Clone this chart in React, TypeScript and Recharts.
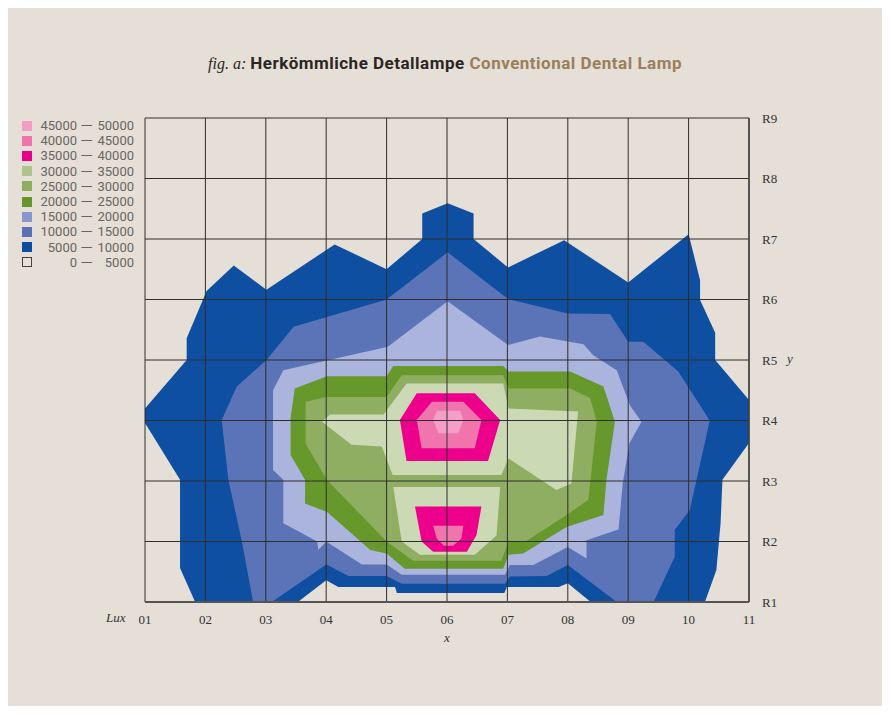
import { ComposedChart, Area, XAxis, YAxis, ReferenceLine } from 'recharts'

// contour outlines: [x, y] vertices, each loop closed
const lux5000 = [
  [1.0, 4.2], [1.69, 5.0], [1.69, 5.36], [2.02, 6.14], [2.47, 6.56], [3.01, 6.16], [4.14, 6.91],
  [5.0, 6.5], [5.59, 7.0], [5.59, 7.42], [6.01, 7.59], [6.44, 7.42], [6.44, 7.0], [7.01, 6.53],
  [7.94, 6.98], [9.0, 6.28], [10.0, 7.08], [10.19, 6.32], [10.19, 5.99], [10.44, 5.45],
  [10.44, 5.0], [11.0, 4.34], [11.0, 3.63], [10.56, 3.02], [10.53, 2.31], [10.46, 1.53],
  [10.27, 1.0], [8.38, 1.0], [8.0, 1.31], [7.85, 1.25], [6.99, 1.25], [6.95, 1.15], [5.17, 1.15],
  [5.14, 1.25], [4.2, 1.25], [4.0, 1.36], [3.53, 1.0], [1.83, 1.0], [1.58, 1.56], [1.58, 3.02],
  [1.0, 3.96], [1.0, 4.2],
]
const lux10000 = [
  [2.27, 4.01], [2.52, 4.56], [3.01, 5.0], [3.46, 5.55], [5.0, 6.0], [6.01, 6.78], [7.01, 6.01],
  [8.0, 5.77], [8.7, 5.76], [9.0, 5.3], [9.25, 5.3], [9.83, 4.81], [10.35, 4.0], [10.02, 2.52],
  [9.77, 2.19], [9.77, 1.75], [9.42, 1.0], [8.81, 1.0], [8.0, 1.61], [7.65, 1.43], [7.04, 1.42],
  [6.96, 1.3], [5.25, 1.3], [5.0, 1.43], [4.37, 1.43], [4.0, 1.62], [3.1, 1.0], [2.79, 1.0],
  [2.6, 2.02], [2.38, 3.02], [2.27, 4.01],
]
const lux15000 = [
  [3.12, 3.18], [3.12, 4.5], [3.29, 4.83], [5.02, 5.22], [6.01, 5.97], [7.01, 5.25], [7.54, 5.39],
  [8.26, 5.26], [8.42, 5.08], [8.81, 4.83], [9.03, 4.25], [9.22, 3.98], [9.02, 3.62], [8.91, 2.96],
  [8.84, 2.2], [8.31, 2.02], [8.31, 1.72], [8.0, 1.91], [7.43, 1.61], [7.04, 1.61], [6.96, 1.45],
  [5.25, 1.45], [5.0, 1.62], [4.59, 1.62], [4.0, 2.0], [3.87, 1.86], [3.85, 2.0], [3.29, 2.3],
  [3.29, 3.02], [3.12, 3.18],
]
const lux20000 = [
  [3.41, 3.43], [3.41, 4.04], [3.48, 4.53], [4.01, 4.73], [5.0, 4.73], [5.11, 4.9], [6.93, 4.9],
  [7.02, 4.81], [8.04, 4.81], [8.59, 4.56], [8.78, 3.98], [8.64, 3.02], [8.59, 2.44], [7.98, 2.24],
  [7.26, 1.8], [7.02, 1.78], [6.93, 1.55], [5.3, 1.55], [5.0, 1.8], [4.73, 1.86], [4.01, 2.49],
  [3.65, 2.63], [3.65, 3.02], [3.41, 3.43],
]
const lux25000 = [
  [3.66, 3.62], [3.66, 4.31], [4.01, 4.39], [5.0, 4.39], [5.25, 4.75], [6.93, 4.75], [7.02, 4.53],
  [8.04, 4.53], [8.37, 4.37], [8.48, 3.98], [8.34, 2.69], [8.0, 2.45], [7.3, 2.0], [7.02, 2.0],
  [6.9, 1.68], [5.44, 1.68], [5.0, 2.0], [4.01, 3.02], [3.66, 3.62],
]
const lux30000Upper = [
  [3.93, 3.98], [4.06, 4.1], [4.95, 4.1], [5.33, 4.61], [6.93, 4.61], [7.02, 4.2], [8.17, 4.15],
  [8.06, 2.96], [7.81, 2.85], [7.02, 3.37], [6.9, 3.1], [5.1, 3.1], [4.92, 3.57], [4.42, 3.6],
  [3.93, 3.98],
]
const lux30000Lower = [
  [5.11, 2.9], [6.88, 2.9], [6.82, 2.1], [6.46, 1.78], [5.55, 1.78], [5.25, 2.0], [5.11, 2.9],
]
const lux35000Upper = [
  [5.22, 4.01], [5.5, 4.45], [6.46, 4.45], [6.88, 4.01], [6.68, 3.33], [5.33, 3.33], [5.22, 4.01],
]
const lux35000Lower = [
  [5.47, 2.58], [6.57, 2.58], [6.49, 2.11], [6.33, 1.83], [5.77, 1.83], [5.58, 2.0], [5.47, 2.58],
]
const lux40000Upper = [
  [5.5, 4.01], [5.75, 4.31], [6.27, 4.31], [6.57, 4.01], [6.46, 3.54], [5.58, 3.54], [5.5, 4.01],
]
const lux40000Lower = [
  [5.77, 2.26], [6.27, 2.26], [6.24, 2.05], [6.1, 1.93], [5.95, 1.93], [5.83, 2.05], [5.77, 2.26],
]
const lux45000 = [
  [5.77, 4.01], [5.83, 4.16], [6.22, 4.16], [6.27, 4.01], [6.19, 3.79], [5.86, 3.79], [5.77, 4.01],
]

const xTicks = [1, 2, 3, 4, 5, 6, 7, 8, 9, 10, 11]
const yTicks = [1, 2, 3, 4, 5, 6, 7, 8, 9]

const bandLow = [45000, 40000, 35000, 30000, 25000, 20000, 15000, 10000, 5000, 0]
const bandHigh = [50000, 45000, 40000, 35000, 30000, 25000, 20000, 15000, 10000, 5000]

const legendColors = [
  '#f49dc4', '#ef74ad', '#e9008a', '#adc48b', '#8daf5f', '#66962a', '#8a95cd', '#5b70b5', '#0d4c9f', 'none',
]

const C = {
  blue1: '#0e4fa2',
  blue2: '#5b73b7',
  blue3: '#abb4dc',
  green1: '#67982b',
  green2: '#8fae62',
  green3: '#cbd9b5',
  pink1: '#ec008c',
  pink2: '#f075ad',
  pink3: '#f59ec7',
}

const toPts = (list: number[][]) => list.map(([x, y]) => ({ x, y }))

// drawn outer to inner
const layers = [
  { id: 'l5', pts: lux5000, fill: C.blue1 },
  { id: 'l10', pts: lux10000, fill: C.blue2 },
  { id: 'l15', pts: lux15000, fill: C.blue3 },
  { id: 'l20', pts: lux20000, fill: C.green1 },
  { id: 'l25', pts: lux25000, fill: C.green2 },
  { id: 'l30a', pts: lux30000Upper, fill: C.green3 },
  { id: 'l30b', pts: lux30000Lower, fill: C.green3 },
  { id: 'l35a', pts: lux35000Upper, fill: C.pink1 },
  { id: 'l35b', pts: lux35000Lower, fill: C.pink1 },
  { id: 'l40a', pts: lux40000Upper, fill: C.pink2 },
  { id: 'l40b', pts: lux40000Lower, fill: C.pink2 },
  { id: 'l45', pts: lux45000, fill: C.pink3 },
]

const serif = '"Liberation Serif", "DejaVu Serif", serif'
const sans = 'Roboto, "Noto Sans", sans-serif'
const tickStyle = { fill: '#333', fontSize: 13, fontFamily: serif }

function LegendBox() {
  return (
    <div style={{ position: 'absolute', left: 14, top: 110, fontFamily: sans, fontSize: 13, color: '#6a6561' }}>
      {bandLow.map((lo, i) => (
        <div key={lo} style={{ height: 15.2, lineHeight: '15.2px', display: 'flex', alignItems: 'center' }}>
          <span
            style={{
              width: legendColors[i] === 'none' ? 8 : 10,
              height: legendColors[i] === 'none' ? 8 : 10,
              background: legendColors[i] === 'none' ? 'transparent' : legendColors[i],
              border: legendColors[i] === 'none' ? '1px solid #444' : 'none',
              display: 'inline-block',
            }}
          />
          <span style={{ width: 45, textAlign: 'right', display: 'inline-block' }}>{lo}</span>
          <span style={{ width: 19, textAlign: 'center', display: 'inline-block', transform: 'scaleX(1.25)' }}>—</span>
          <span style={{ width: 38, textAlign: 'right', display: 'inline-block' }}>{bandHigh[i]}</span>
        </div>
      ))}
    </div>
  )
}

export default function App() {
  return (
    <div style={{ position: 'relative', width: 874, height: 698, background: '#e5dfd7' }}>
      <div
        style={{
          position: 'absolute', left: 0, top: 45, width: 874, textAlign: 'center',
          fontSize: 17, lineHeight: '20px',
        }}
      >
        <span style={{ fontFamily: serif, fontStyle: 'italic', color: '#2b2623', fontSize: 16 }}>fig. a: </span>
        <span style={{ fontFamily: sans, fontWeight: 700, color: '#2b2623', letterSpacing: 0.5 }}>Herkömmliche Detallampe </span>
        <span style={{ fontFamily: sans, fontWeight: 700, color: '#9a7f5a', letterSpacing: 0.5 }}>Conventional Dental Lamp</span>
      </div>

      <LegendBox />

      <div style={{ position: 'absolute', left: 0, top: 0 }}>
        <ComposedChart width={874} height={698} margin={{ top: 110, right: 73, bottom: 74, left: 137 }}>
          <XAxis
            type="number"
            dataKey="x"
            domain={[1, 11]}
            ticks={xTicks}
            allowDataOverflow
            interval={0}
            tickFormatter={(v) => String(v).padStart(2, '0')}
            tickLine={false}
            tickMargin={7}
            height={30}
            axisLine={{ stroke: '#555', strokeWidth: 2 }}
            tick={tickStyle}
          />
          <YAxis
            type="number"
            dataKey="y"
            orientation="right"
            domain={[1, 9]}
            ticks={yTicks}
            allowDataOverflow
            interval={0}
            tickFormatter={(v) => 'R' + v}
            tickLine={false}
            tickMargin={7}
            width={60}
            axisLine={{ stroke: '#444', strokeWidth: 1.5 }}
            tick={tickStyle}
          />
          {layers.map((l) => (
            <Area
              key={l.id}
              data={toPts(l.pts)}
              dataKey="y"
              type="linear"
              fill={l.fill}
              fillOpacity={1}
              stroke="none"
              dot={false}
              activeDot={false}
              isAnimationActive={false}
            />
          ))}
          {xTicks.map((v) => (
            <ReferenceLine key={'vx' + v} x={v} stroke="#2e2e2e" strokeWidth={1} />
          ))}
          {yTicks.map((v) => (
            <ReferenceLine key={'hy' + v} y={v} stroke="#2e2e2e" strokeWidth={1} />
          ))}
        </ComposedChart>
      </div>

      <div style={{ position: 'absolute', left: 98, top: 602, fontFamily: serif, fontStyle: 'italic', fontSize: 13, color: '#333' }}>
        Lux
      </div>
      <div style={{ position: 'absolute', left: 436, top: 622, fontFamily: serif, fontStyle: 'italic', fontSize: 13, color: '#333' }}>
        x
      </div>
      <div style={{ position: 'absolute', left: 779, top: 343, fontFamily: serif, fontStyle: 'italic', fontSize: 13, color: '#333' }}>
        y
      </div>
    </div>
  )
}
